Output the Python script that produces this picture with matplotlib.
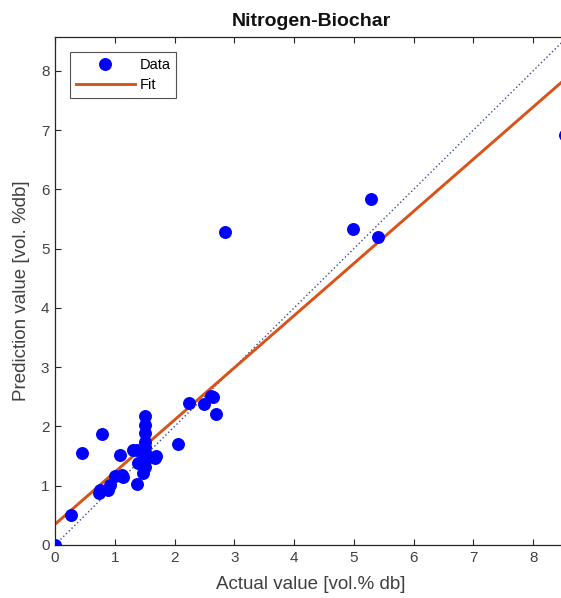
import matplotlib
matplotlib.use("Agg")
import matplotlib.pyplot as plt
import numpy as np

plt.rcParams["font.family"] = ["Liberation Sans", "DejaVu Sans"]

# Measured vs. predicted nitrogen content of biochar [vol.% db]
actual = [0.00, 0.27, 0.46, 0.78, 0.73, 0.75, 0.89, 0.92, 1.00, 1.08,
          1.12, 1.14, 1.31, 1.37, 1.37, 1.39,
          1.50, 1.50, 1.50, 1.50, 1.50, 1.50, 1.50, 1.50, 1.50, 1.48,
          1.67, 1.69, 2.05, 2.24, 2.49, 2.61, 2.64, 2.69,
          2.85, 4.99, 5.29, 5.41, 8.53]
predicted = [0.00, 0.50, 1.56, 1.87, 0.87, 0.93, 0.93, 1.01, 1.16, 1.52,
             1.18, 1.14, 1.60, 1.03, 1.60, 1.38,
             2.17, 2.03, 1.89, 1.74, 1.66, 1.57, 1.49, 1.41, 1.32, 1.21,
             1.46, 1.50, 1.70, 2.39, 2.38, 2.51, 2.49, 2.21,
             5.28, 5.33, 5.83, 5.19, 6.92]

# Linear regression of predicted on actual
fit_slope = 0.88
fit_intercept = 0.35

x_limits = [0, 8.57]
y_limits = [0, 8.57]
x_ticks = [0, 1, 2, 3, 4, 5, 6, 7, 8]
y_ticks = [0, 1, 2, 3, 4, 5, 6, 7, 8]

W, H = 561, 598
fig = plt.figure(figsize=(W / 100, H / 100), dpi=100)
left_px, bottom_px, top_px = 55, 545, 37
ax_h = bottom_px - top_px
ax_w = ax_h * (x_limits[1] - x_limits[0]) / (y_limits[1] - y_limits[0]) * (59.75 / 59.25)
ax = fig.add_axes([left_px / W, 1 - bottom_px / H, ax_w / W, ax_h / H])

ink = "#262626"
label_grey = "#404040"

# identity reference line
ident = np.array(x_limits)
ax.plot(ident, ident, linestyle=(0, (1, 1.8)), color="#3b4a8c", linewidth=1.0, zorder=1)

# data points
ax.plot(actual, predicted, "o", color="#0000ff", markersize=8.3, label="Data",
        zorder=3, clip_on=True)

# fitted line
fx = np.array(x_limits)
ax.plot(fx, fit_intercept + fit_slope * fx, color="#d95319", linewidth=2.1,
        label="Fit", zorder=2)

ax.set_xlim(x_limits)
ax.set_ylim(y_limits)
ax.set_xticks(x_ticks)
ax.set_yticks(y_ticks)
ax.tick_params(direction="in", length=4, width=0.8, colors=ink, labelsize=11,
               top=True, right=True, labelcolor=label_grey, pad=4)
for s in ax.spines.values():
    s.set_color(ink)
    s.set_linewidth(0.9)

ax.set_title("Nitrogen-Biochar", fontsize=14, fontweight="bold", color="#111111", pad=8)
ax.set_xlabel("Actual value [vol.% db]", fontsize=13.5, color=label_grey, labelpad=8)
ax.set_ylabel("Prediction value [vol. %db]", fontsize=13.5, color=label_grey, labelpad=8)

leg = ax.legend(loc="upper left", bbox_to_anchor=(0.03, 0.97), fontsize=10.5,
                frameon=True, fancybox=False, edgecolor=ink, handlelength=4.0,
                handletextpad=0.35, borderpad=0.4, labelspacing=0.4,
                borderaxespad=0.0, markerscale=1.0)
leg.get_frame().set_linewidth(0.8)

fig.savefig("out.png", dpi=100)
